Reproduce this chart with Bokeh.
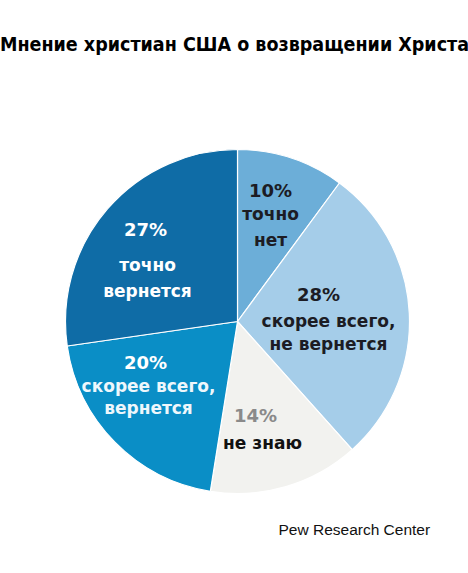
import math
from bokeh.plotting import figure
from bokeh.models import ColumnDataSource, Range1d
from bokeh.core.properties import value
from bokeh.embed import file_html
from bokeh.resources import INLINE

# ---- data ----
title_text = "Мнение христиан США о возвращении Христа"
source_text = "Pew Research Center"
categories = ["точно\nнет", "скорее всего,\nне вернется", "не знаю", "скорее всего,\nвернется", "точно\nвернется"]
values = [10, 28, 14, 20, 27]
colors = ["#6caed8", "#a5cde9", "#f2f2ef", "#0a8ec6", "#0f6ca6"]

# ---- layout / styles ----
W, H = 468, 573
OFF = 0
REF_H = 573
def Y(ry):
    return REF_H - ry

cx, cy, R = 237, Y(321), 172
pct_pos = [(270, 190), (318, 294), (255, 415), (145, 362), (145, 229)]
cat_pos = [[(270, 213), (270, 239)],
           [(328, 320), (328, 343)],
           [(262, 442)],
           [(148, 385), (148, 407)],
           [(147, 264), (147, 290)]]
pct_colors = ["#1c1c24", "#1c1c24", "#8a8a8a", "#ffffff", "#ffffff"]
cat_colors = ["#1c1c24", "#1c1c24", "#111111", "#eef7fc", "#ffffff"]

total = sum(values)
starts, ends = [], []
acc = 0
for v in values:
    starts.append(math.pi / 2 - 2 * math.pi * acc / total)
    acc += v
    ends.append(math.pi / 2 - 2 * math.pi * acc / total)

p = figure(width=W, height=H, output_backend="svg", toolbar_location=None,
           x_range=Range1d(OFF, OFF + W), y_range=Range1d(Y(OFF + H), Y(OFF)),
           min_border=0)
p.axis.visible = False
p.grid.visible = False
p.outline_line_color = None
p.background_fill_color = "white"
p.border_fill_color = "white"

wsrc = ColumnDataSource(dict(start=starts, end=ends, color=colors, cat=categories, val=values))
p.wedge(x=cx, y=cy, radius=R, start_angle="start", end_angle="end", direction="clock",
        fill_color="color", line_color="white", line_width=1.2, source=wsrc)

# percentage labels
pct_src = ColumnDataSource(dict(
    x=[pp[0] for pp in pct_pos], y=[Y(pp[1]) for pp in pct_pos],
    text=[f"{v}%" for v in values], color=pct_colors))
p.text(x="x", y="y", text="text", text_color="color", source=pct_src,
       text_font=value("DejaVu Sans"), text_font_style="bold", text_font_size="18px",
       text_align="center", text_baseline="middle")

# category labels (one glyph per line)
lx, ly, lt, lc = [], [], [], []
for cat, poss, col in zip(categories, cat_pos, cat_colors):
    for line, (px, py) in zip(cat.split("\n"), poss):
        lx.append(px); ly.append(Y(py)); lt.append(line); lc.append(col)
cat_src = ColumnDataSource(dict(x=lx, y=ly, text=lt, color=lc))
p.text(x="x", y="y", text="text", text_color="color", source=cat_src,
       text_font=value("DejaVu Sans"), text_font_style="bold", text_font_size="17px",
       text_align="center", text_baseline="middle")

# title
p.text(x=[234], y=[Y(44)], text=[title_text], text_color="#000000",
       text_font=value("DejaVu Sans Condensed"), text_font_style="bold", text_font_size="19.5px",
       text_align="center", text_baseline="middle")

# source
p.text(x=[278], y=[Y(529)], text=[source_text], text_color="#111111",
       text_font=value("Liberation Sans"), text_font_size="15.5px",
       text_align="left", text_baseline="middle")

open("out.html", "w").write(file_html(p, INLINE))
